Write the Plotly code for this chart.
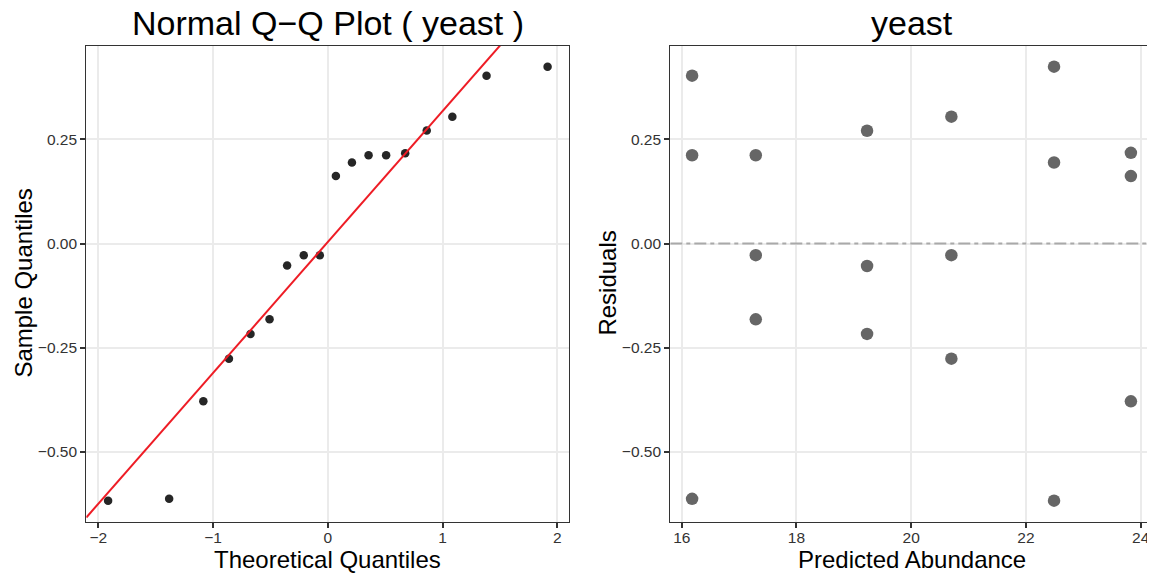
import numpy as np
import plotly.graph_objects as go

# ---- data ----
theoretical_q = [-1.915, -1.383, -1.085, -0.862, -0.674, -0.508, -0.355, -0.210, -0.070,
                 0.070, 0.210, 0.355, 0.508, 0.674, 0.862, 1.085, 1.383, 1.915]
sample_q = [-0.6175, -0.613, -0.379, -0.2765, -0.217, -0.182, -0.053, -0.028, -0.028,
            0.162, 0.1945, 0.212, 0.212, 0.217, 0.2715, 0.3046, 0.403, 0.4247]

predicted = [16.18, 16.18, 16.18, 17.29, 17.29, 17.29, 19.23, 19.23, 19.23,
             20.70, 20.70, 20.70, 22.49, 22.49, 22.49, 23.83, 23.83, 23.83]
residuals = [0.403, 0.212, -0.613, 0.212, -0.028, -0.182, 0.2707, -0.054, -0.217,
             0.3046, -0.028, -0.2765, 0.4247, 0.1945, -0.6175, 0.2177, 0.162, -0.379]

qq_xticks = [-2, -1, 0, 1, 2]
y_ticks = [-0.5, -0.25, 0.0, 0.25]
y_ticklabels = ["−0.50", "−0.25", "0.00", "0.25"]
res_xticks = [16, 18, 20, 22, 24]

# qq reference line through quartiles
q25, q75 = np.percentile(sample_q, [25, 75])
z25, z75 = -0.6744898, 0.6744898
slope = (q75 - q25) / (z75 - z25)
intercept = q25 - slope * z25

OFF = 8  # page body margin
W, H = 1155 - OFF, 581 - OFF
FONT = "Liberation Sans, Arial, Helvetica, sans-serif"

xr1 = [-2.105, 2.099]
yr = [-0.668, 0.4755]
xr2 = [15.80, 24.21]

fig = go.Figure()

line_x = np.array(xr1)
fig.add_trace(go.Scatter(x=theoretical_q, y=sample_q, mode="markers",
                         marker=dict(size=8.5, color="#262626"),
                         xaxis="x", yaxis="y", showlegend=False))
fig.add_trace(go.Scatter(x=line_x, y=intercept + slope * line_x, mode="lines",
                         line=dict(color="#EE1C25", width=2),
                         xaxis="x", yaxis="y", showlegend=False))

fig.add_trace(go.Scatter(x=xr2, y=[0, 0], mode="lines",
                         line=dict(color="#A9A9A9", width=2.2, dash="12px,4px,4px,4px"),
                         xaxis="x2", yaxis="y2", showlegend=False))
fig.add_trace(go.Scatter(x=predicted, y=residuals, mode="markers",
                         marker=dict(size=12.5, color="#666666"),
                         xaxis="x2", yaxis="y2", showlegend=False))

def px_x(p):
    return (p - OFF) / W

def px_y(p):
    return 1 - (p - OFF) / H

axis_common = dict(
    showline=True, mirror=True, linecolor="#333333", linewidth=1.2,
    ticks="outside", ticklen=5, tickwidth=1.5, tickcolor="#333333",
    showgrid=True, gridcolor="#EBEBEB", gridwidth=1.8,
    zeroline=False,
    tickfont=dict(family=FONT, size=15.5, color="#333333"),
)

fig.update_layout(
    width=W, height=H,
    margin=dict(l=0, r=0, t=0, b=0),
    paper_bgcolor="white", plot_bgcolor="white",
    xaxis=dict(domain=[px_x(86.3), px_x(568.7)], range=xr1, tickvals=qq_xticks,
               anchor="y", ticklabelstandoff=-3, **axis_common),
    yaxis=dict(domain=[px_y(521.7), px_y(45.5)], range=yr, tickvals=y_ticks,
               ticktext=y_ticklabels, anchor="x", **axis_common),
    xaxis2=dict(domain=[px_x(670.3), px_x(1152.7)], range=xr2, tickvals=res_xticks,
                anchor="y2", ticklabelstandoff=-3, **axis_common),
    yaxis2=dict(domain=[px_y(521.7), px_y(45.5)], range=yr, tickvals=y_ticks,
                ticktext=y_ticklabels, anchor="x2", **axis_common),
    showlegend=False,
)

ann = [
    dict(text="Normal Q−Q Plot ( yeast )", x=327.5, y=23, size=34, angle=0),
    dict(text="yeast", x=911.5, y=23, size=34, angle=0),
    dict(text="Theoretical Quantiles", x=327.5, y=559, size=24, angle=0),
    dict(text="Predicted Abundance", x=911.5, y=559, size=24, angle=0),
    dict(text="Sample Quantiles", x=24, y=283.6, size=24, angle=-90),
    dict(text="Residuals", x=608, y=283.6, size=24, angle=-90),
]
for a in ann:
    fig.add_annotation(text=a["text"], x=px_x(a["x"]), y=px_y(a["y"]),
                       xref="paper", yref="paper",
                       xanchor="center", yanchor="middle", showarrow=False,
                       textangle=a["angle"],
                       font=dict(family=FONT, size=a["size"], color="black"))

fig.write_html("out.html")
